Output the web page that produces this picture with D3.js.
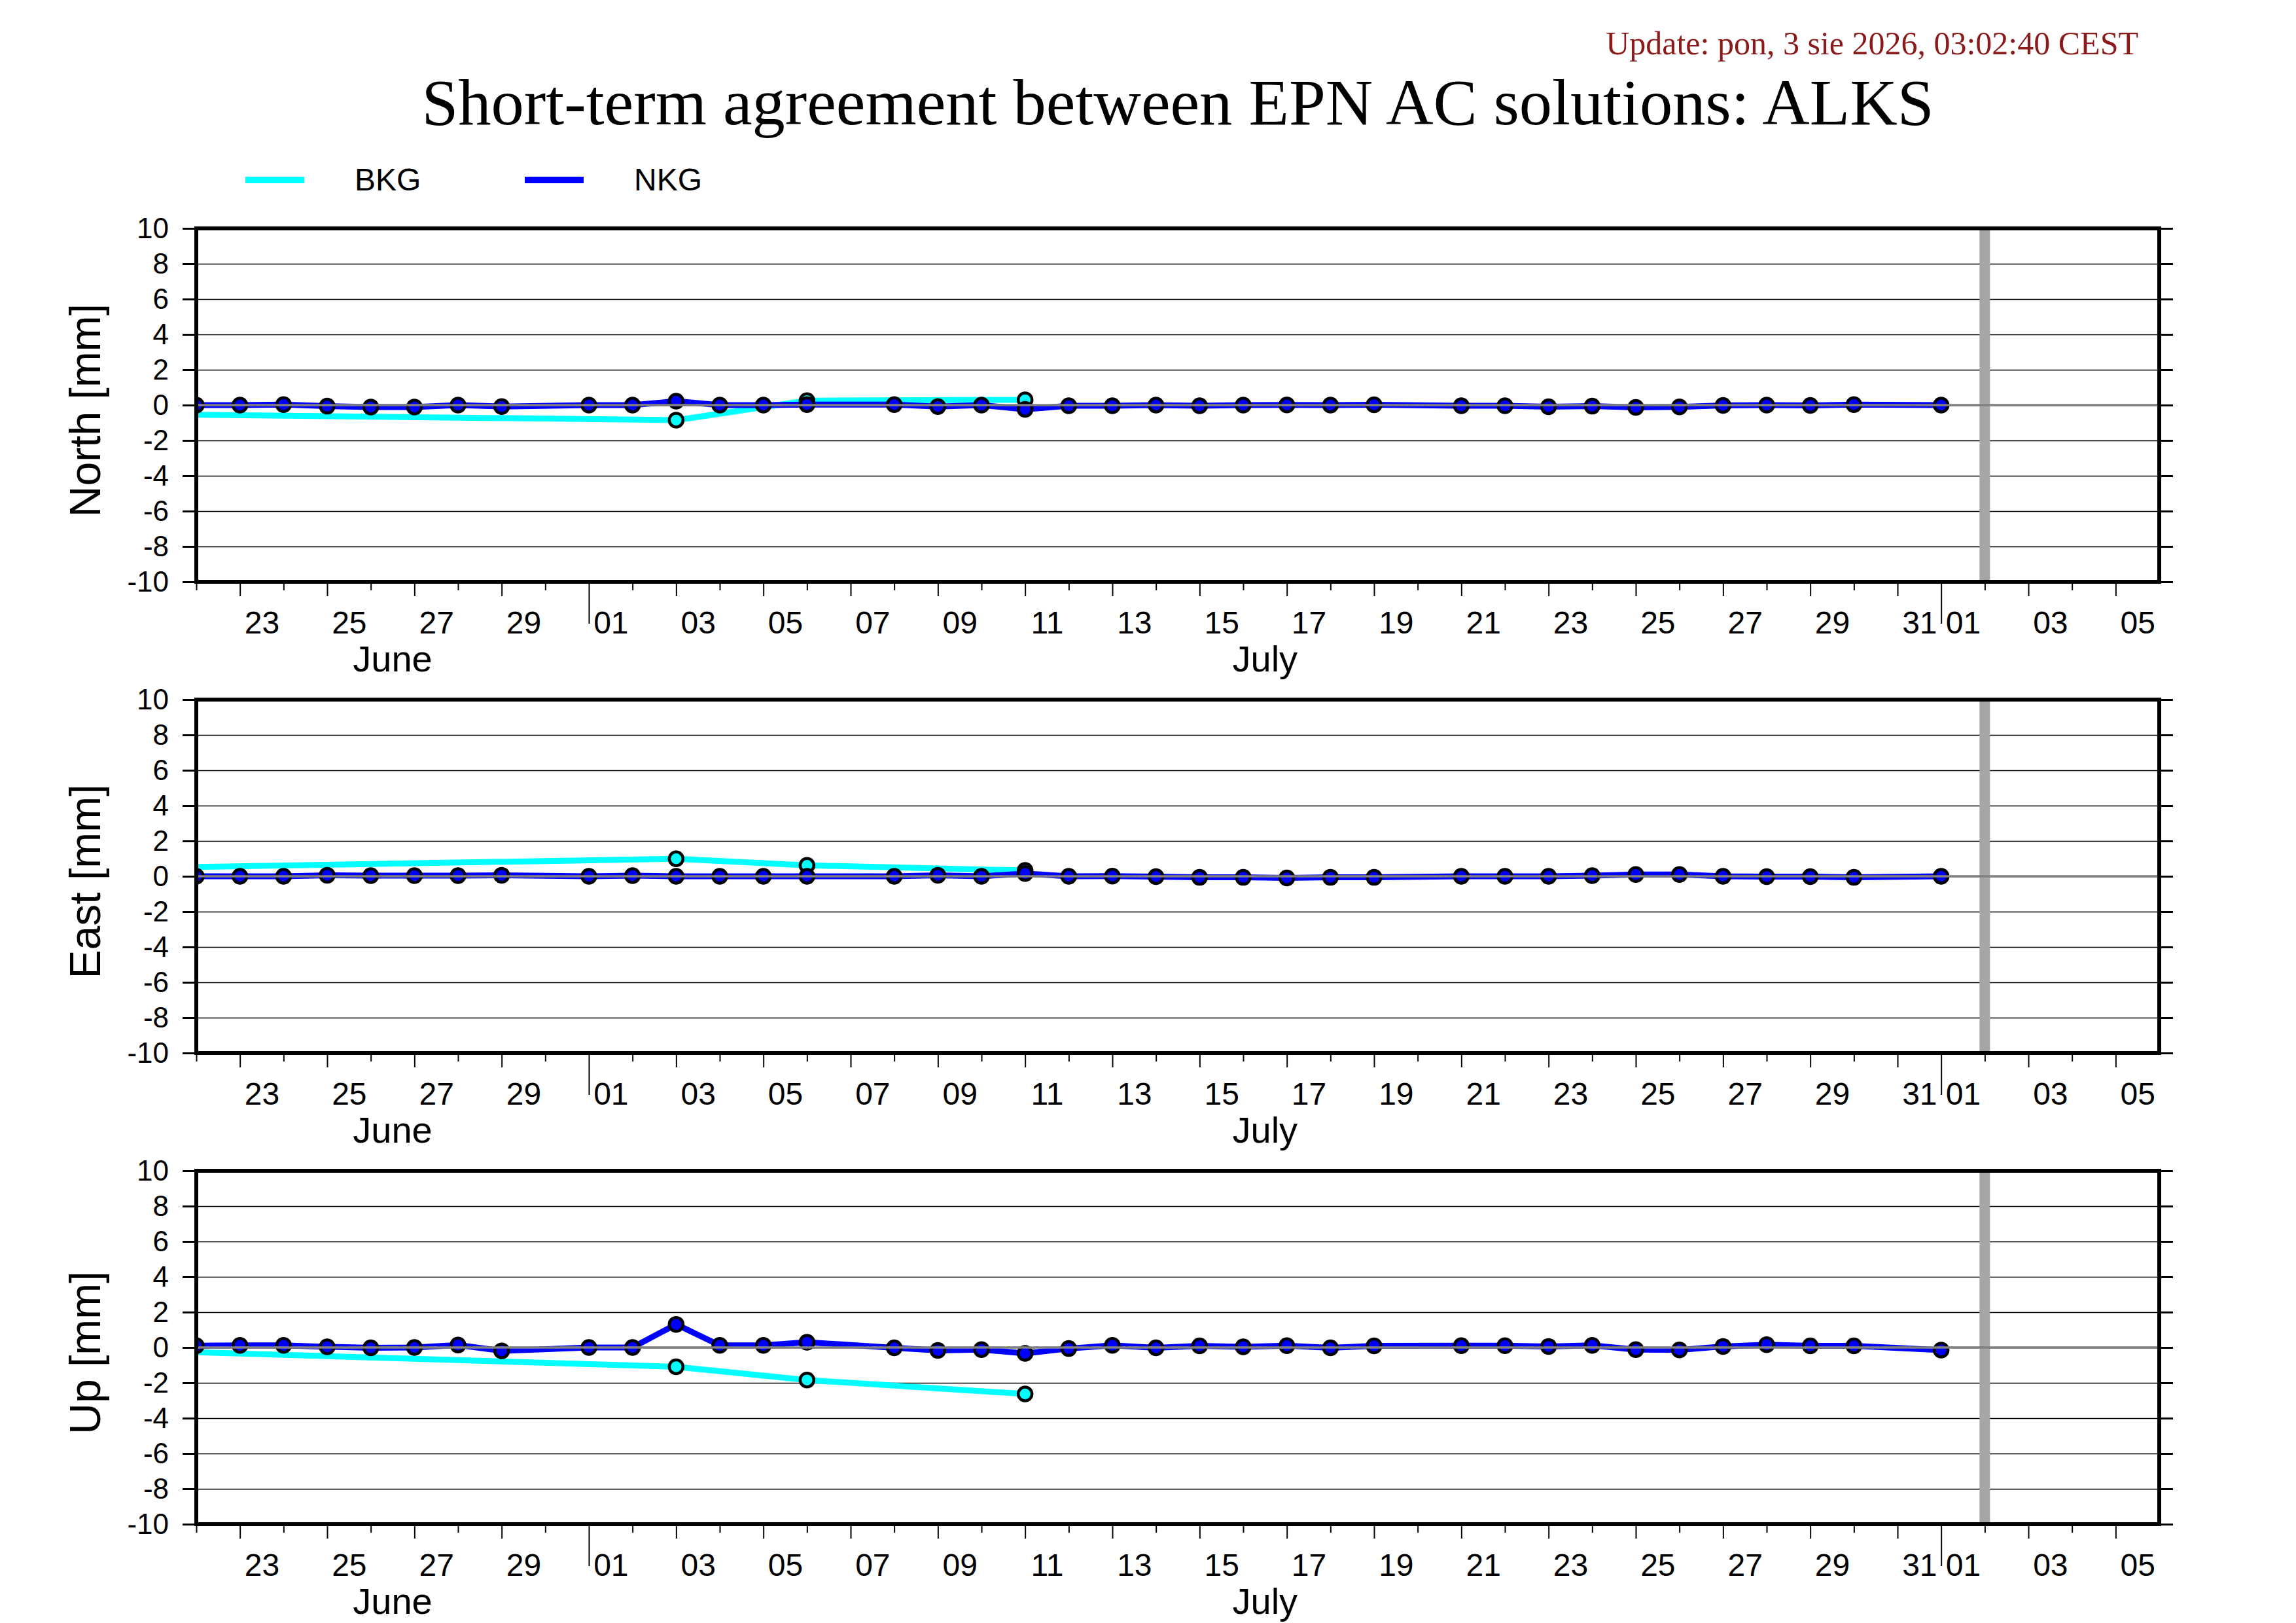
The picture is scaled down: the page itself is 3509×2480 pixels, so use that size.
<!DOCTYPE html>
<html>
<head>
<meta charset="utf-8">
<script src="https://cdn.jsdelivr.net/npm/d3@7"></script>
<style>
  body { margin: 0; background: #fff; }
</style>
</head>
<body>
<div id="chart"></div>
<script>
// frame of the page
const WIDTH = 3509;
const HEIGHT = 2480;
const PLOT_LEFT = 300;
const PLOT_RIGHT = 3300;
const PANEL_H = 540;
const PANEL_TOPS = [349, 1069, 1789];

// chart text
const titleText = "Short-term agreement between EPN AC solutions: ALKS";
const updateText = "Update: pon, 3 sie 2026, 03:02:40 CEST";
const panelNames = ["North [mm]", "East [mm]", "Up [mm]"];
const seriesNames = ["BKG", "NKG"];
const seriesColors = ["#00ffff", "#0000ff"];

// axes
const yTicks = [-10, -8, -6, -4, -2, 0, 2, 4, 6, 8, 10];
const dateRange = ["2026-06-22", "2026-08-06"];
const monthNames = ["June", "July"];
const markerDay = "2026-08-02";

// NKG daily solutions
const nkgDays = [
  "2026-06-22", "2026-06-23", "2026-06-24", "2026-06-25", "2026-06-26", "2026-06-27", "2026-06-28", "2026-06-29",
  "2026-07-01", "2026-07-02", "2026-07-03", "2026-07-04", "2026-07-05", "2026-07-06",
  "2026-07-08", "2026-07-09", "2026-07-10", "2026-07-11", "2026-07-12", "2026-07-13", "2026-07-14",
  "2026-07-15", "2026-07-16", "2026-07-17", "2026-07-18", "2026-07-19",
  "2026-07-21", "2026-07-22", "2026-07-23", "2026-07-24", "2026-07-25", "2026-07-26", "2026-07-27",
  "2026-07-28", "2026-07-29", "2026-07-30",
  "2026-08-01"
];
const nkgNorth = [
  0, 0, 0.03, -0.06, -0.11, -0.11, 0, -0.08,
  0, 0, 0.22, 0, 0, 0.03,
  0.03, -0.08, 0, -0.24, -0.04, -0.04, 0,
  -0.04, 0, 0.01, 0, 0.02,
  -0.04, -0.04, -0.09, -0.06, -0.13, -0.1, -0.02,
  0, -0.02, 0.03,
  0
];
const nkgEast = [
  0, 0, 0, 0.06, 0.04, 0.04, 0.04, 0.06,
  0, 0.04, 0, 0, 0, 0,
  0, 0.06, 0, 0.16, 0, 0.01, -0.02,
  -0.06, -0.06, -0.09, -0.06, -0.06,
  0, 0, 0, 0.04, 0.1, 0.1, 0,
  -0.02, -0.02, -0.06,
  0
];
const nkgUp = [
  0.1, 0.12, 0.12, 0.04, -0.02, 0, 0.14, -0.19,
  0, 0, 1.31, 0.12, 0.12, 0.3,
  -0.02, -0.17, -0.12, -0.33, -0.06, 0.12, -0.02,
  0.09, 0.04, 0.1, -0.02, 0.09,
  0.1, 0.1, 0.06, 0.12, -0.12, -0.14, 0.06,
  0.16, 0.09, 0.09,
  -0.15
];

// BKG solutions (first one lies before the plotted range)
const bkgDays = ["2026-06-18", "2026-07-03", "2026-07-06", "2026-07-11"];
const bkgNorth = [-0.43, -0.85, 0.25, 0.3];
const bkgEast = [0.36, 0.99, 0.62, 0.33];
const bkgUp = [0.03, -1.09, -1.84, -2.63];

const parse = d3.utcParse("%Y-%m-%d");
const dayFmt = d3.utcFormat("%d");
const SANS = "'Liberation Sans', Arial, sans-serif";
const SERIF = "'Liberation Serif', 'Times New Roman', serif";

const svg = d3.select("#chart")
  .append("svg")
  .attr("width", WIDTH)
  .attr("height", HEIGHT)
  .style("font-family", SANS);

svg.append("rect").attr("width", WIDTH).attr("height", HEIGHT).attr("fill", "#fff");

// clip data to the plot box (same box in every panel group)
svg.append("defs").append("clipPath")
  .attr("id", "plotclip")
  .append("rect")
    .attr("x", PLOT_LEFT)
    .attr("y", 0)
    .attr("width", PLOT_RIGHT - PLOT_LEFT)
    .attr("height", PANEL_H);

const xScale = d3.scaleUtc()
  .domain(dateRange.map(parse))
  .range([PLOT_LEFT, PLOT_RIGHT]);

const yScale = d3.scaleLinear()
  .domain([-10, 10])
  .range([PANEL_H, 0]);

const allDays = d3.utcDay.range(xScale.domain()[0], xScale.domain()[1]);
const halfDay = xScale(d3.utcHour.offset(allDays[0], 12)) - xScale(allDays[0]);

function pairs(days, vals) {
  return days.map((d, i) => ({date: parse(d), v: vals[i]}));
}

const panels = [
  {name: panelNames[0], bkg: pairs(bkgDays, bkgNorth), nkg: pairs(nkgDays, nkgNorth)},
  {name: panelNames[1], bkg: pairs(bkgDays, bkgEast), nkg: pairs(nkgDays, nkgEast)},
  {name: panelNames[2], bkg: pairs(bkgDays, bkgUp), nkg: pairs(nkgDays, nkgUp)}
];

const line = d3.line()
  .x(d => xScale(d.date))
  .y(d => yScale(d.v));

panels.forEach(function(p, i) {
  const g = svg.append("g").attr("transform", `translate(0,${PANEL_TOPS[i]})`);

  // horizontal grid
  g.append("g")
    .attr("transform", `translate(${PLOT_LEFT},0)`)
    .call(d3.axisLeft(yScale).tickValues(yTicks).tickSize(-(PLOT_RIGHT - PLOT_LEFT)).tickFormat(""))
    .call(a => a.select(".domain").remove())
    .selectAll("line").attr("stroke", "#000").attr("stroke-width", 1.6);

  // today marker
  g.append("rect")
    .attr("x", xScale(parse(markerDay)) - 8)
    .attr("y", 0)
    .attr("width", 16)
    .attr("height", PANEL_H)
    .attr("fill", "#a6a6a6");

  const data = g.append("g").attr("clip-path", "url(#plotclip)");

  // BKG
  data.append("path")
    .datum(p.bkg)
    .attr("d", line)
    .attr("fill", "none")
    .attr("stroke", seriesColors[0])
    .attr("stroke-width", 9)
    .attr("stroke-linejoin", "round");
  data.selectAll(".bkg")
    .data(p.bkg)
    .enter()
    .append("circle")
      .attr("class", "bkg")
      .attr("cx", d => xScale(d.date))
      .attr("cy", d => yScale(d.v))
      .attr("r", 10.5)
      .attr("fill", seriesColors[0])
      .attr("stroke", "#000")
      .attr("stroke-width", 4.5);

  // NKG
  data.append("path")
    .datum(p.nkg)
    .attr("d", line)
    .attr("fill", "none")
    .attr("stroke", seriesColors[1])
    .attr("stroke-width", 9)
    .attr("stroke-linejoin", "round");
  data.selectAll(".nkg")
    .data(p.nkg)
    .enter()
    .append("circle")
      .attr("class", "nkg")
      .attr("cx", d => xScale(d.date))
      .attr("cy", d => yScale(d.v))
      .attr("r", 10.5)
      .attr("fill", seriesColors[1])
      .attr("stroke", "#000")
      .attr("stroke-width", 4.5);

  // zero line on top
  g.append("line")
    .attr("x1", PLOT_LEFT)
    .attr("x2", PLOT_RIGHT)
    .attr("y1", yScale(0))
    .attr("y2", yScale(0))
    .attr("stroke", "#808080")
    .attr("stroke-width", 3.5);

  // left axis with labels (plain hyphen for negatives)
  g.append("g")
    .attr("transform", `translate(${PLOT_LEFT},0)`)
    .call(d3.axisLeft(yScale).tickValues(yTicks).tickSize(21).tickPadding(21).tickFormat(d => String(d)))
    .call(a => a.select(".domain").remove())
    .call(a => a.selectAll("line").attr("stroke-width", 3))
    .call(a => a.selectAll("text")
      .attr("font-size", 44)
      .attr("font-family", SANS)
      .attr("fill", "#000"));

  // right axis, ticks only
  g.append("g")
    .attr("transform", `translate(${PLOT_RIGHT},0)`)
    .call(d3.axisRight(yScale).tickValues(yTicks).tickSize(21).tickFormat(""))
    .call(a => a.select(".domain").remove())
    .call(a => a.selectAll("line").attr("stroke-width", 3));

  // bottom axis: a tick every day, label odd days at noon
  g.append("g")
    .attr("transform", `translate(0,${PANEL_H})`)
    .call(d3.axisBottom(xScale)
      .tickValues(allDays)
      .tickSize(13)
      .tickFormat(d => d.getUTCDate() % 2 ? dayFmt(d) : ""))
    .call(a => a.select(".domain").remove())
    .call(a => a.selectAll(".tick line")
      .attr("stroke-width", 2)
      .attr("y2", d => d.getUTCDate() === 1 ? 64 : (d.getUTCDate() % 2 ? 22 : 13)))
    .call(a => a.selectAll(".tick text")
      .attr("x", halfDay)
      .attr("y", 79)
      .attr("dy", null)
      .attr("font-size", 48)
      .attr("font-family", SANS)
      .attr("fill", "#000"));

  // month names centred on the visible part of each month
  const months = d3.utcMonth.range(d3.utcMonth.floor(xScale.domain()[0]), xScale.domain()[1])
    .slice(0, monthNames.length);
  g.selectAll(".month")
    .data(months)
    .enter()
    .append("text")
      .attr("class", "month")
      .attr("x", d => {
        const a = d3.max([d, xScale.domain()[0]]);
        const b = d3.min([d3.utcMonth.offset(d, 1), xScale.domain()[1]]);
        return (xScale(a) + xScale(b)) / 2;
      })
      .attr("y", PANEL_H + 137)
      .attr("text-anchor", "middle")
      .attr("font-size", 56)
      .text((d, k) => monthNames[k]);

  // frame
  g.append("rect")
    .attr("x", PLOT_LEFT)
    .attr("y", 0)
    .attr("width", PLOT_RIGHT - PLOT_LEFT)
    .attr("height", PANEL_H)
    .attr("fill", "none")
    .attr("stroke", "#000")
    .attr("stroke-width", 6);

  // y title
  g.append("text")
    .attr("transform", `translate(153,${PANEL_H / 2 + 8}) rotate(-90)`)
    .attr("text-anchor", "middle")
    .attr("font-size", 66)
    .text(p.name);
});

// title and update stamp
svg.append("text")
  .attr("x", 1800)
  .attr("y", 190)
  .attr("text-anchor", "middle")
  .attr("font-family", SERIF)
  .attr("font-size", 100.5)
  .text(titleText);

svg.append("text")
  .attr("x", 3268)
  .attr("y", 83)
  .attr("text-anchor", "end")
  .attr("font-family", SERIF)
  .attr("font-size", 50)
  .attr("fill", "#8b1a1a")
  .text(updateText);

// legend
const legendX = [375, 802];
seriesNames.forEach(function(name, i) {
  svg.append("line")
    .attr("x1", legendX[i])
    .attr("x2", legendX[i] + 90)
    .attr("y1", 275)
    .attr("y2", 275)
    .attr("stroke", seriesColors[i])
    .attr("stroke-width", 10);
  svg.append("text")
    .attr("x", legendX[i] + 167)
    .attr("y", 291)
    .attr("font-size", 48)
    .text(name);
});
</script>
</body>
</html>
